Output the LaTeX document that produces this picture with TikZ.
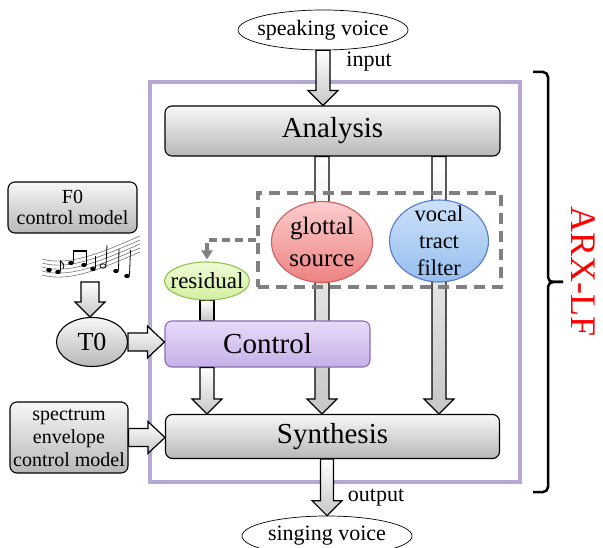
\documentclass[tikz,border=0pt]{standalone}
\usepackage{fontspec}
\setmainfont{Liberation Serif}
\usetikzlibrary{shapes.geometric,calc,arrows.meta}
\pgfdeclarelayer{bg}
\pgfsetlayers{bg,main}
\definecolor{frameviolet}{RGB}{182,168,210}
\definecolor{ctrltop}{RGB}{232,218,248}
\definecolor{ctrlbot}{RGB}{198,176,232}
\definecolor{ctrlline}{RGB}{140,110,180}
\definecolor{redtop}{RGB}{252,205,205}
\definecolor{redbot}{RGB}{238,130,130}
\definecolor{redline}{RGB}{205,95,95}
\definecolor{bluetop}{RGB}{205,225,250}
\definecolor{bluebot}{RGB}{150,190,238}
\definecolor{blueline}{RGB}{85,125,200}
\definecolor{greentop}{RGB}{240,252,215}
\definecolor{greenbot}{RGB}{210,238,160}
\definecolor{greenline}{RGB}{145,195,80}
\newcommand\blockarrow[5]{%
  \coordinate (baA) at #1;
  \coordinate (baB) at #2;
  \coordinate (baC) at ($(baB)!#5!(baA)$);
  \path[blockarrowstyle] ($(baA)!#3!90:(baB)$) -- ($(baC)!#3!90:(baB)$)
    -- ($(baC)!#4!90:(baB)$) -- (baB) -- ($(baC)!#4!-90:(baB)$)
    -- ($(baC)!#3!-90:(baB)$) -- ($(baA)!#3!-90:(baB)$) -- cycle;}
\begin{document}
\begin{tikzpicture}[x=1pt,y=-1pt,
  grayfill/.style={top color=black!3, bottom color=black!28},
  graybox/.style={draw=black, line width=1.1pt, rounded corners=7pt, grayfill, inner sep=0pt, align=center},
  bigtext/.style={font=\fontsize{29}{32}\selectfont},
  smalltext/.style={font=\fontsize{20}{21.5}\selectfont},
  vtext/.style={font=\fontsize{22}{24}\selectfont, inner sep=0pt},
  voice/.style={ellipse, draw=black, line width=0.7pt, fill=white, inner sep=0pt},
  blob/.style={ellipse, line width=1.1pt, inner sep=0pt},
  blockarrowstyle/.style={draw=black, line width=1.2pt, top color=white, bottom color=black!22},
  dashedconn/.style={draw=black!50, line width=3.2pt, dash pattern=on 8pt off 5pt},
  notehead/.style={fill=black},
  staff/.style={draw=black!55, line width=0.6pt},
]
\useasboundingbox (0,0) rectangle (603,548);

% ---------- nodes ----------
\node[voice, minimum width=170, minimum height=40,
      label={[vtext]center:speaking voice}] (sv) at (323,30) {};
\node[vtext] (input) at (369,62) {input};

\node[graybox, bigtext, minimum width=335, minimum height=50] (analysis) at (332.5,131) {Analysis};
\node[graybox, bigtext, minimum width=334, minimum height=44] (synthesis) at (332.5,436.5) {Synthesis};
\node[draw=ctrlline, line width=1.1pt, rounded corners=7pt, top color=ctrltop, bottom color=ctrlbot,
      bigtext, minimum width=205, minimum height=46, inner sep=0pt] (control) at (267.5,344) {Control};

\node[blob, draw=redline, top color=redtop, bottom color=redbot, minimum width=101, minimum height=81,
      label={[font=\fontsize{25}{32}\selectfont, align=center, inner sep=0pt]center:glottal\\source}] (glottal) at (322,242) {};
\node[blob, draw=blueline, top color=bluetop, bottom color=bluebot, minimum width=99, minimum height=82,
      label={[font=\fontsize{22.5}{27}\selectfont, align=center, inner sep=0pt]center:vocal\\tract\\filter}] (vocal) at (439,241) {};
\node[blob, draw=greenline, top color=greentop, bottom color=greenbot, minimum width=85, minimum height=38,
      label={[font=\fontsize{23}{25}\selectfont, inner sep=0pt]center:residual}] (residual) at (207,281) {};

\node[draw=black!50, line width=3.2pt, dash pattern=on 11pt off 7pt, minimum width=243, minimum height=94,
      inner sep=0pt] (dbox) at (379.5,240) {};

\node[voice, minimum width=170, minimum height=40,
      label={[vtext]center:singing voice}] (ss) at (327,536) {};
\node[vtext] (output) at (376,498) {output};

\node[graybox, smalltext, minimum width=129, minimum height=51] (f0) at (72.5,207.5) {F0\\control model};
\node[blob, draw=black, grayfill, minimum width=71, minimum height=49,
      label={[font=\fontsize{26}{28}\selectfont, inner sep=0pt]center:T0}] (t0) at (92,342) {};
\node[graybox, smalltext, minimum width=118, minimum height=71, font=\fontsize{20}{23}\selectfont] (spectrum) at (69,437.5) {spectrum\\envelope\\control model};

\node[text=red, rotate=-90, font=\fontsize{36}{36}\selectfont, inner sep=0pt] (arx) at (583,272) {ARX-LF};

% ---------- background: frame and long bars ----------
\begin{pgfonlayer}{bg}
  \node[draw=frameviolet, line width=4pt, minimum width=370, minimum height=400, inner sep=0pt] (frame) at (335,282) {};
  \blockarrow{(analysis.south -| glottal.center)}{(synthesis.north -| glottal.center)}{7pt}{15pt}{15pt}
  \blockarrow{(analysis.south -| vocal.center)}{(synthesis.north -| vocal.center)}{7pt}{15pt}{15pt}
  \path[blockarrowstyle] ($(residual.south)+(-7,0)$) rectangle ($(residual.south |- control.north)+(7,0)$);
\end{pgfonlayer}

% ---------- arrows ----------
\blockarrow{(sv.south)}{(sv.south |- analysis.north)}{7pt}{15pt}{15pt}
\blockarrow{(synthesis.south -| ss.north)}{(ss.north)}{6.5pt}{15pt}{15pt}
\blockarrow{(control.south -| residual.center)}{(synthesis.north -| residual.center)}{7pt}{15pt}{15pt}

\coordinate (notesend) at (90,282);
\blockarrow{(notesend)}{(notesend |- t0.north)}{9pt}{15pt}{15pt}
\blockarrow{(t0.east)}{(control.west |- t0.east)}{9pt}{16pt}{17pt}
\blockarrow{(spectrum.east)}{(synthesis.west |- spectrum.east)}{9pt}{16pt}{17pt}

\draw[dashedconn, -{Triangle[length=9pt,width=11pt]}, shorten >=2pt] (dbox.west) -| (residual.north);

% ---------- brace ----------
\draw[line width=2.5pt, rounded corners=5pt] (533,72) -| (548,282) -- (563,282);
\draw[line width=2.5pt, rounded corners=5pt] (563,282) -- (548,282) |- (533,492);

% ---------- music notes ----------
\foreach \i in {0,...,4}
  \draw[staff] (42,{259+4*\i}) .. controls (70,{267+4*\i}) and (105,{251+4*\i}) .. (140,{236+4*\i});
\fill[notehead] (49,270) ellipse [x radius=2.8, y radius=2.1];
\fill[notehead] (58,272) ellipse [x radius=2.8, y radius=2.1];
\draw[line width=0.8pt] (60.5,271) -- (60.5,261) .. controls (63,263) and (65,265) .. (63,269);
\fill[notehead] (71,263) ellipse [x radius=2.8, y radius=2.1];
\fill[notehead] (84,265) ellipse [x radius=2.8, y radius=2.1];
\draw[line width=0.8pt] (73.5,262) -- (73.5,250);
\draw[line width=0.8pt] (86.5,264) -- (86.5,250);
\draw[line width=2pt] (73.2,251) -- (86.8,251);
\fill[notehead] (93,269) ellipse [x radius=2.8, y radius=2.1];
\draw[line width=0.8pt] (95.5,268) -- (95.5,256);
\draw[line width=0.8pt] (103,266) ellipse [x radius=3, y radius=2.2];
\draw[line width=0.8pt] (106,265) -- (107,245);
\fill[notehead] (116,271) ellipse [x radius=2.8, y radius=2.1];
\draw[line width=0.8pt] (118.5,270) -- (119,249);
\fill[notehead] (127,276) ellipse [x radius=2.8, y radius=2.1];
\draw[line width=0.8pt] (129.5,275) -- (130.5,250);
\end{tikzpicture}
\end{document}
